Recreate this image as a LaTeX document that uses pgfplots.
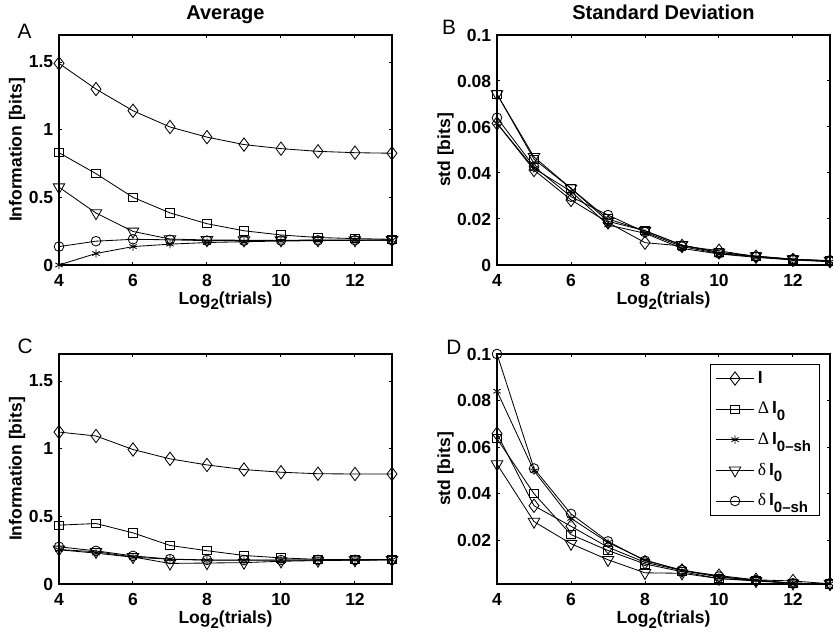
\documentclass[border=0pt]{standalone}
\usepackage{fontspec}
\setmainfont{Liberation Sans}
\newfontfamily\symb{Liberation Serif}
\usepackage{pgfplots}
\usepackage{pgfplotstable}
\pgfplotsset{compat=1.18}

% lowered subscript, as in the matlab figure
\newcommand{\lowsub}[2][3pt]{\raisebox{-#1}{\fontsize{9}{9}\selectfont\bfseries #2}}

% columns: I, Delta I0, Delta I0-sh, delta I0, delta I0-sh
\pgfplotstableread{
x I dI0 dI0sh di0 di0sh
4 1.49 0.83 0.000 0.575 0.136
5 1.30 0.675 0.085 0.384 0.176
6 1.14 0.50 0.136 0.248 0.190
7 1.02 0.385 0.154 0.192 0.186
8 0.945 0.305 0.166 0.185 0.180
9 0.89 0.253 0.172 0.183 0.180
10 0.86 0.222 0.177 0.183 0.181
11 0.84 0.203 0.180 0.184 0.182
12 0.83 0.195 0.182 0.184 0.183
13 0.826 0.190 0.183 0.185 0.184
}\tabA

\pgfplotstableread{
x I dI0 dI0sh di0 di0sh
4 0.0616 0.0743 0.0616 0.0743 0.0640
5 0.0413 0.0460 0.0420 0.0470 0.0428
6 0.0283 0.0333 0.0320 0.0333 0.0297
7 0.0185 0.0200 0.0174 0.0190 0.0217
8 0.0097 0.0149 0.0138 0.0149 0.0143
9 0.0083 0.0085 0.0072 0.0087 0.0080
10 0.0062 0.0054 0.0048 0.0055 0.0050
11 0.0036 0.0038 0.0033 0.0039 0.0036
12 0.0022 0.0025 0.0022 0.0025 0.0025
13 0.0017 0.0018 0.0014 0.0019 0.0017
}\tabB

\pgfplotstableread{
x I dI0 dI0sh di0 di0sh
4 1.123 0.435 0.253 0.255 0.275
5 1.094 0.447 0.228 0.238 0.245
6 0.994 0.378 0.198 0.200 0.208
7 0.925 0.285 0.183 0.152 0.184
8 0.880 0.246 0.176 0.155 0.178
9 0.846 0.211 0.175 0.158 0.177
10 0.826 0.193 0.176 0.168 0.177
11 0.815 0.182 0.177 0.173 0.178
12 0.813 0.180 0.178 0.176 0.178
13 0.813 0.180 0.179 0.178 0.179
}\tabC

\pgfplotstableread{
x I dI0 dI0sh di0 di0sh
4 0.0658 0.0636 0.0840 0.0527 0.1000
5 0.0348 0.0400 0.0498 0.0280 0.0508
6 0.0260 0.0224 0.0294 0.0185 0.0313
7 0.0170 0.0156 0.0190 0.0116 0.0195
8 0.0105 0.0098 0.0115 0.0060 0.0112
9 0.0070 0.0065 0.0070 0.0058 0.0072
10 0.0048 0.0035 0.0042 0.0035 0.0044
11 0.0030 0.0028 0.0028 0.0025 0.0028
12 0.0025 0.0015 0.0015 0.0015 0.0015
13 0.0013 0.0013 0.0013 0.0013 0.0013
}\tabD

\tikzset{
  letter/.style={anchor=base west, inner sep=0pt, font=\fontsize{12.5}{14}\selectfont},
  ptitle/.style={anchor=base, inner sep=0pt, yshift=9.4pt, font=\bfseries\fontsize{12}{14}\selectfont},
}

\pgfplotsset{
  panel/.style={
    scale only axis, width=199.8pt, height=138pt, anchor=south west,
    xmin=4, xmax=13, xtick={4,6,8,10,12}, xticklabels={4,6,8,10,12},
    scaled ticks=false, clip=false,
    tick align=inside, major tick length=2pt,
    axis line style={line width=0.8pt},
    every tick/.style={line width=0.6pt, black},
    tick label style={font=\bfseries\fontsize{10.5}{12}\selectfont},
    xticklabel style={anchor=base, yshift=-13.2pt},
    label style={font=\bfseries\fontsize{10.5}{12}\selectfont},
    xlabel={Log\lowsub{2}(trials)},
    xlabel style={at={(axis description cs:0.5,0)}, anchor=base, yshift=-24pt},
    ylabel style={anchor=base},
    every axis plot/.append style={line width=0.5pt, black},
  },
  sI/.style={mark=diamond, mark size=4pt},
  sD/.style={mark=square, mark size=2.5pt},
  sS/.style={mark=asterisk, mark size=2.5pt},
  sT/.style={mark=triangle, mark size=4pt, mark options={rotate=180}},
  sC/.style={mark=o, mark size=2.9pt},
}

\begin{document}
\begin{tikzpicture}
\path[use as bounding box] (0,0) rectangle (499.8pt,381.6pt);

% A
\begin{axis}[panel, at={(35.4pt,222.6pt)},
  ymin=0, ymax=1.7, ytick={0,0.5,1,1.5}, yticklabels={0,0.5,1,1.5},
  ylabel={Information [bits]},
  ylabel style={at={(axis description cs:-0.112,0.5)}}]
\addplot[sI] table[y=I]{\tabA};
\addplot[sD] table[y=dI0]{\tabA};
\addplot[sS] table[y=dI0sh]{\tabA};
\addplot[sT] table[y=di0]{\tabA};
\addplot[sC] table[y=di0sh]{\tabA};
\node[ptitle] at (axis description cs:0.5,1) {Average};
\node[letter, xshift=-25pt, yshift=-2.4pt] at (axis description cs:0,1) {A};
\end{axis}

% B
\begin{axis}[panel, at={(298.2pt,222.6pt)},
  ymin=0, ymax=0.1, ytick={0,0.02,0.04,0.06,0.08,0.1},
  yticklabels={0,0.02,0.04,0.06,0.08,0.1},
  ylabel={std [bits]},
  ylabel style={at={(axis description cs:-0.141,0.5)}}]
\addplot[sI] table[y=I]{\tabB};
\addplot[sD] table[y=dI0]{\tabB};
\addplot[sS] table[y=dI0sh]{\tabB};
\addplot[sT] table[y=di0]{\tabB};
\addplot[sC] table[y=di0sh]{\tabB};
\node[ptitle] at (axis description cs:0.5,1) {Standard Deviation};
\node[letter, xshift=-33.2pt] at (axis description cs:0,1) {B};
\end{axis}

% C
\begin{axis}[panel, at={(35.4pt,31.2pt)},
  ymin=0, ymax=1.7, ytick={0,0.5,1,1.5}, yticklabels={0,0.5,1,1.5},
  ylabel={Information [bits]},
  ylabel style={at={(axis description cs:-0.112,0.5)}}]
\addplot[sI] table[y=I]{\tabC};
\addplot[sD] table[y=dI0]{\tabC};
\addplot[sS] table[y=dI0sh]{\tabC};
\addplot[sT] table[y=di0]{\tabC};
\addplot[sC] table[y=di0sh]{\tabC};
\node[letter, xshift=-25pt, yshift=0.4pt] at (axis description cs:0,1) {C};
\end{axis}

% D
\begin{axis}[panel, at={(298.2pt,31.2pt)},
  ymin=0.0012, ymax=0.1, ytick={0.02,0.04,0.06,0.08,0.1},
  yticklabels={0.02,0.04,0.06,0.08,0.1},
  ylabel={std [bits]},
  ylabel style={at={(axis description cs:-0.141,0.5)}},
  legend style={at={(axis description cs:0.97,0.956)}, anchor=north east,
    draw=black, line width=0.6pt, inner xsep=3pt, inner ysep=2pt, row sep=5.6pt,
    font=\bfseries\fontsize{10.5}{12}\selectfont},
  legend cell align=left,
  legend image code/.code={\draw[mark repeat=2, mark phase=2, #1]
    plot coordinates {(0pt,0pt) (11.5pt,0pt) (23pt,0pt)};}]
\addplot[sI] table[y=I]{\tabD};
\addplot[sD] table[y=dI0]{\tabD};
\addplot[sS] table[y=dI0sh]{\tabD};
\addplot[sT] table[y=di0]{\tabD};
\addplot[sC] table[y=di0sh]{\tabD};
\legend{I,
  {{\symb\mdseries Δ}\,I\lowsub[4pt]{0}},
  {{\symb\mdseries Δ}\,I\lowsub[4pt]{0--sh}},
  {{\symb\mdseries δ}\,I\lowsub[4pt]{0}},
  {{\symb\mdseries δ}\,I\lowsub[4pt]{0--sh}}}
\node[letter, xshift=-30.6pt, yshift=-0.6pt] at (axis description cs:0,1) {D};
\end{axis}
\end{tikzpicture}
\end{document}
